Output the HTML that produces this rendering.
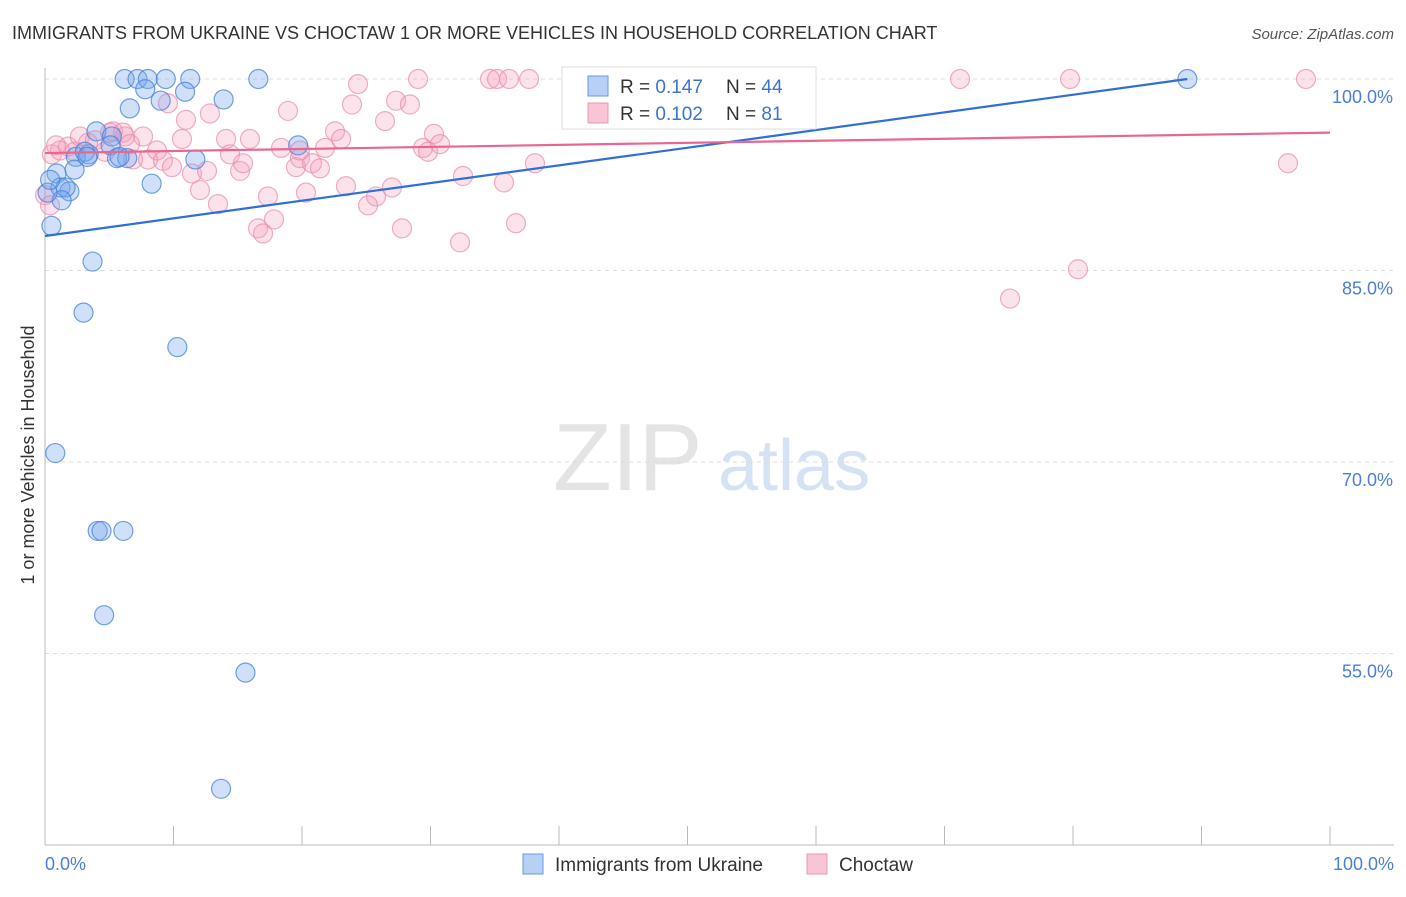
<!DOCTYPE html>
<html><head><meta charset="utf-8"><style>
body{margin:0;background:#fff;font-family:"Liberation Sans",sans-serif}
svg text{font-family:"Liberation Sans",sans-serif}
</style></head><body>
<svg id="chart" width="1406" height="892" viewBox="0 0 1406 892">
<text x="12" y="39" font-size="18" fill="#333">IMMIGRANTS FROM UKRAINE VS CHOCTAW 1 OR MORE VEHICLES IN HOUSEHOLD CORRELATION CHART</text>
<text x="1394" y="39" font-size="15" fill="#555" text-anchor="end" font-style="italic">Source: ZipAtlas.com</text>
<g>
<text x="553" y="490" font-size="96" fill="#e4e4e4" font-family="Liberation Serif,serif">ZIP</text>
<text x="718" y="490" font-size="72" fill="#d4e2f4">atlas</text>
</g>
<g id="grid"></g><g id="axes"></g><g id="pts"></g><g id="lines"></g>
<text x="34" y="455" font-size="18" fill="#333" text-anchor="middle" transform="rotate(-90 34 455)">1 or more Vehicles in Household</text>
<text x="45" y="870" font-size="18" fill="#4a7fd4">0.0%</text>
<text x="1394" y="870" font-size="18" fill="#4a7fd4" text-anchor="end">100.0%</text>
<g>
<rect x="562" y="67" width="254" height="62" fill="#fff" stroke="#ddd"/>
<rect x="588" y="76" width="20" height="20" fill="#b8d0f4" stroke="#6a9ae0"/>
<rect x="588" y="103" width="20" height="20" fill="#f8c4d6" stroke="#e898b4"/>
<text x="620" y="93" font-size="19" fill="#333">R = <tspan fill="#3a74d0">0.147</tspan></text>
<text x="726" y="93" font-size="19" fill="#333">N = <tspan fill="#3a74d0">44</tspan></text>
<text x="620" y="120" font-size="19" fill="#333">R = <tspan fill="#3a74d0">0.102</tspan></text>
<text x="726" y="120" font-size="19" fill="#333">N = <tspan fill="#3a74d0"> 81</tspan></text>
</g>
<g>
<rect x="523" y="854" width="20" height="20" fill="#b8d0f4" stroke="#6a9ae0"/>
<text x="555" y="871" font-size="19" fill="#333">Immigrants from Ukraine</text>
<rect x="807" y="854" width="20" height="20" fill="#f8c4d6" stroke="#e898b4"/>
<text x="839" y="871" font-size="19" fill="#333">Choctaw</text>
</g>
</svg>
<script>
const yTicks=[100,85,70,55];
const yTickLabels=["100.0%","85.0%","70.0%","55.0%"];
const xTicks=[0,10,20,30,40,50,60,70,80,90,100];
const ukraineX=[6.2,7.2,8.0,9.4,11.3,16.6,7.8,10.9,9.0,13.9,6.6,4.0,5.2,5.1,2.4,3.4,3.1,5.6,6.4,11.7,19.7,0.9,2.3,1.2,1.9,1.6,8.3,1.3,0.2,0.5,3.7,3.0,10.3,0.8,4.1,4.4,6.1,4.6,15.6,13.7,88.9,0.4,5.8,3.3];
const ukraineY=[100,100,100,100,100,100,99.2,99.0,98.3,98.4,97.7,95.9,95.5,94.8,93.9,94.1,94.3,93.8,93.8,93.7,94.8,92.6,92.9,91.5,91.2,91.5,91.8,90.5,91.1,88.5,85.7,81.7,79.0,70.7,64.6,64.6,64.6,58.0,53.5,44.4,100,92.1,93.9,93.9];
const choctawX=[0.54,1.17,1.79,2.33,2.72,3.35,3.89,4.67,5.29,6.07,6.23,6.85,7.63,8.02,8.72,9.18,9.57,9.88,10.66,10.97,11.44,12.06,12.61,12.84,13.46,14.09,14.40,15.18,15.41,15.95,16.58,16.97,17.35,17.82,18.37,18.91,19.53,19.84,20.31,20.78,21.40,21.79,22.57,23.04,23.42,23.89,24.36,25.14,25.76,26.46,27.0,27.32,27.78,28.40,29.03,29.42,29.81,30.27,30.74,32.30,32.53,34.63,35.18,36.11,35.72,36.65,37.67,38.13,46.69,71.21,79.77,98.13,75.1,80.39,96.73,0,0.39,5.06,19.84,0.86,6.61];
const choctawY=[94.1,94.4,94.7,94.3,95.5,95.0,95.2,94.3,95.9,95.8,95.5,93.7,95.5,93.7,94.4,93.6,98.1,93.1,95.3,96.8,92.6,91.3,92.8,97.3,90.2,95.3,94.1,92.8,93.4,95.3,88.3,87.9,90.8,89.0,94.6,97.5,93.1,93.8,91.1,93.4,93.0,94.6,95.9,95.3,91.6,98.0,99.6,90.1,90.8,96.7,91.5,98.3,88.3,98.0,100,94.6,94.3,95.7,94.9,87.2,92.4,100,100,100,91.9,88.7,100,93.4,100,100,100,100,82.8,85.1,93.4,90.9,90.1,95.8,94.4,94.8,94.9];
const ukraineTrend=[[0,87.7],[88.9,100]];
const choctawTrend=[[0,94.2],[100,95.8]];
const NS="http://www.w3.org/2000/svg";
const X=v=>45+v*12.85, Y=v=>79+(100-v)*12.766;
function mk(t,a,p){const e=document.createElementNS(NS,t);for(const k in a)e.setAttribute(k,a[k]);p.appendChild(e);return e;}
const grid=document.getElementById('grid'),axes=document.getElementById('axes'),pts=document.getElementById('pts'),lines=document.getElementById('lines');
yTicks.forEach((t,i)=>{
 const l=mk('line',{x1:45,x2:1394,y1:Y(t),y2:Y(t),stroke:'#ddd','stroke-dasharray':'4,4'},grid);
 
 
 const tx=mk('text',{x:1393,y:Y(t)+24,'font-size':18,fill:'#4a7fd4','text-anchor':'end'},grid);
 tx.textContent=yTickLabels[i];
 
 
});
const ya=mk('line',{x1:45,x2:45,y1:68,y2:845,stroke:'#bbb'},axes);


const xa=mk('line',{x1:45,x2:1394,y1:845,y2:845,stroke:'#bbb'},axes);


xTicks.forEach(t=>{
 const l=mk('line',{x1:X(t),x2:X(t),y1:826,y2:845,stroke:'#bbb'},axes);
 
 
});
choctawX.forEach((v,i)=>{
 const c=mk('circle',{cx:X(v),cy:Y(choctawY[i]),r:9.5,fill:'rgba(244,160,190,0.3)',stroke:'rgba(232,140,172,0.7)','stroke-width':1.2},pts);
 
 
});
ukraineX.forEach((v,i)=>{
 const c=mk('circle',{cx:X(v),cy:Y(ukraineY[i]),r:9.5,fill:'rgba(120,165,235,0.35)',stroke:'rgba(70,130,220,0.75)','stroke-width':1.2},pts);
 
 
});
const bl=mk('line',{x1:X(ukraineTrend[0][0]),y1:Y(ukraineTrend[0][1]),x2:X(ukraineTrend[1][0]),y2:Y(ukraineTrend[1][1]),stroke:'#2f6fd6','stroke-width':2.2},lines);


const pl=mk('line',{x1:X(choctawTrend[0][0]),y1:Y(choctawTrend[0][1]),x2:X(choctawTrend[1][0]),y2:Y(choctawTrend[1][1]),stroke:'#e86690','stroke-width':2.2},lines);


</script>
</body></html>
